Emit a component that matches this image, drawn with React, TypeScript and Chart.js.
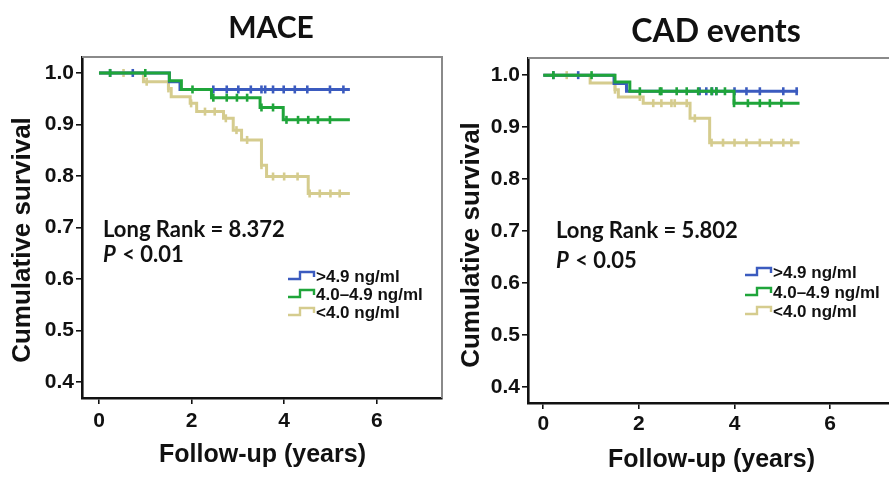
import React, { useEffect, useRef } from "react";
import { Chart, registerables } from "chart.js";

Chart.register(...registerables);

// ---------- data ----------
const xTickValues = [0, 2, 4, 6];
const yTickValues = [0.4, 0.5, 0.6, 0.7, 0.8, 0.9, 1.0];
const groupLabels = [">4.9 ng/ml", "4.0–4.9 ng/ml", "<4.0 ng/ml"];
const groupColors = ["#3b5bbf", "#1fa53a", "#d5cc8e"];

// MACE: step times (years) and survival from that time on
const maceHighTimes = [0, 1.52, 1.75, 5.42];
const maceHighSurv = [1.0, 0.983, 0.968, 0.968];
const maceHighCensor = [0.24, 0.73, 2.47, 2.76, 3.01, 3.28, 3.51, 3.59, 3.76, 3.99, 4.23, 4.5, 4.99, 5.28];

const maceMidTimes = [0, 1.52, 1.78, 2.43, 3.48, 3.98, 5.42];
const maceMidSurv = [1.0, 0.985, 0.968, 0.952, 0.933, 0.909, 0.909];
const maceMidCensor = [0.24, 1.0, 2.02, 2.47, 2.76, 2.98, 3.2, 3.51, 3.76, 4.05, 4.3, 4.52, 4.73, 4.99];

const maceLowTimes = [0, 0.96, 1.5, 1.56, 1.97, 2.11, 2.69, 2.9, 3.08, 3.51, 3.62, 4.52, 5.42];
const maceLowSurv = [1.0, 0.983, 0.97, 0.954, 0.941, 0.925, 0.912, 0.889, 0.87, 0.821, 0.799, 0.766, 0.766];
const maceLowCensor = [0.53, 1.03, 1.5, 1.99, 2.29, 2.5, 2.74, 2.97, 3.2, 3.51, 3.76, 4.0, 4.29, 4.55, 4.77, 5.0, 5.2];

// CAD events
const cadHighTimes = [0, 1.48, 1.74, 5.33];
const cadHighSurv = [1.0, 0.984, 0.969, 0.969];
const cadHighCensor = [0.21, 0.73, 3.27, 3.41, 3.53, 3.62, 4.0, 4.25, 4.53, 5.02, 5.3];

const cadMidTimes = [0, 1.5, 1.81, 3.99, 5.36];
const cadMidSurv = [1.0, 0.987, 0.969, 0.946, 0.946];
const cadMidCensor = [0.21, 1.01, 2.02, 2.44, 2.47, 2.79, 3.0, 3.24, 3.52, 3.62, 3.8, 3.99, 4.28, 4.53, 4.74, 4.98];

const cadLowTimes = [0, 0.98, 1.5, 1.57, 2.09, 3.07, 3.48, 5.36];
const cadLowSurv = [1.0, 0.985, 0.972, 0.958, 0.946, 0.917, 0.87, 0.87];
const cadLowCensor = [0.49, 1.5, 2.02, 2.3, 2.47, 2.68, 2.75, 3.0, 3.17, 3.52, 3.76, 4.0, 4.25, 4.53, 4.77, 5.02, 5.19];

const maceStats = ["Long Rank = 8.372", "< 0.01"];
const cadStats = ["Long Rank = 5.802", "< 0.05"];

// ---------- helpers ----------
type Group = { times: number[]; surv: number[]; censor: number[] };

function levelAt(g: Group, t: number) {
  let s = g.surv[0];
  for (let i = 0; i < g.times.length; i++) if (t >= g.times[i] - 1e-9) s = g.surv[i];
  return s;
}

type PanelCfg = {
  left: number;
  width: number;
  padTop: number;
  padRight: number;
  xAxisHeight: number;
  xTickPad: number;
  xMin: number;
  xMax: number;
  yMin: number;
  yMax: number;
  title: string;
  titleSize: number;
  titleX: number;
  titleY: number;
  yTitleX: number;
  yTitleY: number;
  xTitleX: number;
  xTitleY: number;
  stats: string[];
  annX: number;
  annY1: number;
  annY2: number;
  legSymX: number;
  legTextX: number;
  legRows: number[];
  groups: Group[];
};

const H = 478;
const TICK_FONT = '"Liberation Sans", Arial, sans-serif';
const CAL_FONT = 'Lato, "Open Sans", sans-serif';

function makeDecor(cfg: PanelCfg) {
  return {
    id: "decor",
    afterDraw(chart: any) {
      const ctx = chart.ctx as CanvasRenderingContext2D;
      const a = chart.chartArea;
      const ox = cfg.left;
      ctx.save();
      // top & right frame
      ctx.strokeStyle = "#8a8a8a";
      ctx.lineWidth = 2;
      ctx.beginPath();
      ctx.moveTo(a.left, a.top);
      ctx.lineTo(a.right, a.top);
      ctx.lineTo(a.right, a.bottom);
      ctx.stroke();

      ctx.fillStyle = "#111";
      // panel title
      ctx.font = `bold ${cfg.titleSize}px ${CAL_FONT}`;
      ctx.textAlign = "center";
      ctx.textBaseline = "alphabetic";
      ctx.fillText(cfg.title, cfg.titleX - ox, cfg.titleY);

      // x title
      ctx.font = `bold 25px ${TICK_FONT}`;
      ctx.fillText("Follow-up (years)", cfg.xTitleX - ox, cfg.xTitleY);

      // y title
      ctx.save();
      ctx.translate(cfg.yTitleX - ox, cfg.yTitleY);
      ctx.rotate(-Math.PI / 2);
      ctx.textBaseline = "middle";
      ctx.font = `bold 26px ${TICK_FONT}`;
      ctx.fillText("Cumulative survival", 0, 0);
      ctx.restore();

      // stats annotation
      ctx.textAlign = "left";
      ctx.textBaseline = "alphabetic";
      ctx.font = `bold 22px ${CAL_FONT}`;
      ctx.fillText(cfg.stats[0], cfg.annX - ox, cfg.annY1);
      ctx.font = `italic bold 22px ${CAL_FONT}`;
      ctx.fillText("P", cfg.annX - ox, cfg.annY2);
      const pw = ctx.measureText("P").width;
      ctx.font = `bold 22px ${CAL_FONT}`;
      ctx.fillText(" " + cfg.stats[1], cfg.annX - ox + pw + 1, cfg.annY2);

      // legend
      ctx.font = `bold 17px ${TICK_FONT}`;
      ctx.textBaseline = "middle";
      for (let k = 0; k < groupLabels.length; k++) {
        const y = cfg.legRows[k];
        const x0 = cfg.legSymX - ox;
        ctx.strokeStyle = groupColors[k];
        ctx.lineWidth = 2.4;
        ctx.beginPath();
        ctx.moveTo(x0, y + 3);
        ctx.lineTo(x0 + 12, y + 3);
        ctx.lineTo(x0 + 12, y - 4);
        ctx.lineTo(x0 + 26, y - 4);
        ctx.lineTo(x0 + 26, y + 1);
        ctx.stroke();
        ctx.fillStyle = "#111";
        ctx.fillText(groupLabels[k], cfg.legTextX - ox, y + 1);
      }
      ctx.restore();
    },
  };
}

const drawOrder = [1, 0, 2];

function Panel({ cfg }: { cfg: PanelCfg }) {
  const ref = useRef<HTMLCanvasElement | null>(null);
  useEffect(() => {
    if (!ref.current) return;
    const datasets: any[] = [];
    cfg.groups.forEach((g, i) => {
      datasets.push({
        type: "line",
        data: g.times.map((t, k) => ({ x: t, y: g.surv[k] })),
        stepped: true,
        borderColor: groupColors[i],
        borderWidth: 3,
        pointRadius: 0,
        fill: false,
        order: drawOrder[i],
      });
      datasets.push({
        type: "scatter",
        data: g.censor.map((t) => ({ x: t, y: levelAt(g, t) })),
        pointStyle: "line",
        rotation: 90,
        pointRadius: 4,
        borderWidth: 2.6,
        borderColor: groupColors[i],
        backgroundColor: groupColors[i],
        showLine: false,
        order: drawOrder[i],
      });
    });
    const chart = new Chart(ref.current, {
      type: "line",
      data: { datasets },
      options: {
        animation: false,
        responsive: false,
        maintainAspectRatio: false,
        events: [],
        layout: { padding: { left: 0, top: cfg.padTop, right: cfg.padRight, bottom: 0 } },
        plugins: { legend: { display: false }, tooltip: { enabled: false }, title: { display: false } },
        scales: {
          x: {
            type: "linear",
            min: cfg.xMin,
            max: cfg.xMax,
            afterBuildTicks: (s: any) => {
              s.ticks = xTickValues.map((v) => ({ value: v }));
            },
            afterFit: (s: any) => {
              s.height = cfg.xAxisHeight;
            },
            ticks: {
              autoSkip: false,
              maxRotation: 0,
              padding: cfg.xTickPad,
              color: "#111",
              font: { family: TICK_FONT, size: 21, weight: "bold" },
              callback: (v: any) => Number(v).toFixed(0),
            },
            grid: { display: true, drawOnChartArea: false, drawTicks: true, tickLength: 6, color: "#111", lineWidth: 1.6 },
            border: { display: true, color: "#111", width: 2.6 },
          },
          y: {
            type: "linear",
            min: cfg.yMin,
            max: cfg.yMax,
            afterBuildTicks: (s: any) => {
              s.ticks = yTickValues.map((v) => ({ value: v }));
            },
            afterFit: (s: any) => {
              s.width = 82;
            },
            ticks: {
              autoSkip: false,
              padding: 2,
              color: "#111",
              font: { family: TICK_FONT, size: 21, weight: "bold" },
              callback: (v: any) => Number(v).toFixed(1),
            },
            grid: { display: true, drawOnChartArea: false, drawTicks: true, tickLength: 6, color: "#111", lineWidth: 1.6 },
            border: { display: true, color: "#111", width: 2.6 },
          },
        },
      } as any,
      plugins: [makeDecor(cfg)],
    });
    return () => chart.destroy();
  }, [cfg]);
  return (
    <canvas
      ref={ref}
      width={cfg.width}
      height={H}
      style={{ position: "absolute", left: cfg.left, top: 0, width: cfg.width, height: H }}
    />
  );
}

const maceCfg: PanelCfg = {
  left: 0,
  width: 450,
  padTop: 57,
  padRight: 8,
  xAxisHeight: 80,
  xTickPad: 5,
  xMin: -0.367,
  xMax: 7.41,
  yMin: 0.369,
  yMax: 1.031,
  title: "MACE",
  titleSize: 30,
  titleX: 271,
  titleY: 38,
  yTitleX: 23,
  yTitleY: 240,
  xTitleX: 262.5,
  xTitleY: 462,
  stats: maceStats,
  annX: 103,
  annY1: 237,
  annY2: 262,
  legSymX: 288,
  legTextX: 316,
  legRows: [276, 294, 312],
  groups: [
    { times: maceHighTimes, surv: maceHighSurv, censor: maceHighCensor },
    { times: maceMidTimes, surv: maceMidSurv, censor: maceMidCensor },
    { times: maceLowTimes, surv: maceLowSurv, censor: maceLowCensor },
  ],
};

const cadCfg: PanelCfg = {
  left: 446,
  width: 460,
  padTop: 58,
  padRight: 8,
  xAxisHeight: 75,
  xTickPad: 3,
  xMin: -0.32,
  xMax: 7.42,
  yMin: 0.369,
  yMax: 1.033,
  title: "CAD events",
  titleSize: 32,
  titleX: 716,
  titleY: 42,
  yTitleX: 472,
  yTitleY: 245,
  xTitleX: 711.5,
  xTitleY: 467,
  stats: cadStats,
  annX: 556,
  annY1: 238,
  annY2: 268,
  legSymX: 745,
  legTextX: 773,
  legRows: [272, 292, 311],
  groups: [
    { times: cadHighTimes, surv: cadHighSurv, censor: cadHighCensor },
    { times: cadMidTimes, surv: cadMidSurv, censor: cadMidCensor },
    { times: cadLowTimes, surv: cadLowSurv, censor: cadLowCensor },
  ],
};

export default function App() {
  return (
    <div
      style={{
        position: "fixed",
        left: 0,
        top: 0,
        width: 889,
        height: H,
        overflow: "hidden",
        background: "#fff",
      }}
    >
      <Panel cfg={maceCfg} />
      <Panel cfg={cadCfg} />
    </div>
  );
}
